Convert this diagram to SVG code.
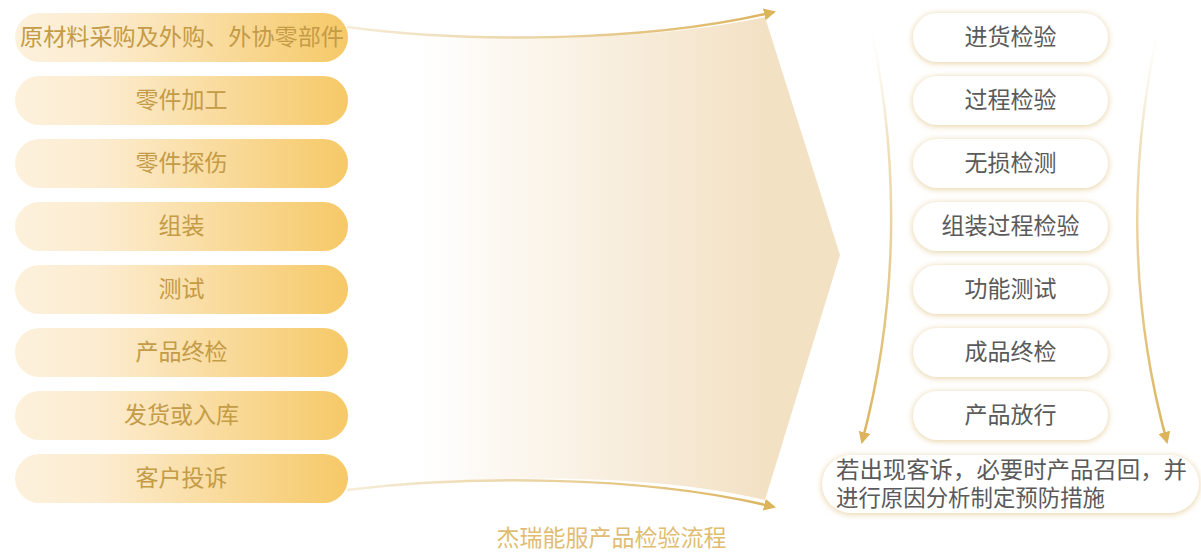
<svg xmlns="http://www.w3.org/2000/svg" width="1201" height="556" viewBox="0 0 1201 556">
<defs>
<linearGradient id="pillGrad" x1="0" y1="0" x2="1" y2="0">
<stop offset="0" stop-color="#fdf1dc"/>
<stop offset="0.25" stop-color="#fcecd0"/>
<stop offset="1" stop-color="#f6c967"/>
</linearGradient>
<linearGradient id="fillGrad" x1="347" y1="0" x2="840" y2="0" gradientUnits="userSpaceOnUse">
<stop offset="0" stop-color="#ffffff"/>
<stop offset="0.15" stop-color="#ffffff"/>
<stop offset="0.85" stop-color="#f3e1c4"/>
<stop offset="1" stop-color="#f3e1c4"/>
</linearGradient>
<linearGradient id="lineGradH" x1="347" y1="0" x2="775" y2="0" gradientUnits="userSpaceOnUse">
<stop offset="0" stop-color="#f6ecd8"/>
<stop offset="1" stop-color="#dcb45c"/>
</linearGradient>
<linearGradient id="lineGradV" x1="0" y1="10" x2="0" y2="442" gradientUnits="userSpaceOnUse">
<stop offset="0" stop-color="#ffffff" stop-opacity="0"/>
<stop offset="0.3" stop-color="#f0e0bc"/>
<stop offset="1" stop-color="#dcb45c"/>
</linearGradient>
<marker id="arrow" viewBox="0 0 12 12" refX="10" refY="6" markerWidth="12" markerHeight="12" markerUnits="userSpaceOnUse" orient="auto">
<path d="M0,0 L12,6 L0,12 Z" fill="#dcb45c"/>
</marker>
<filter id="glow" x="-20%" y="-40%" width="140%" height="180%">
<feGaussianBlur in="SourceAlpha" stdDeviation="3"/>
<feOffset dx="0" dy="1" result="b"/>
<feFlood flood-color="#e3c88e" flood-opacity="0.9"/>
<feComposite in2="b" operator="in"/>
<feMerge><feMergeNode/><feMergeNode in="SourceGraphic"/></feMerge>
</filter>
</defs>
<style>
.lp{fill:url(#pillGrad)}
.lt{font-family:"Noto Sans CJK SC","Noto Sans",sans-serif;font-size:23px;fill:#c49b47;text-anchor:middle}
.rp{fill:#ffffff;filter:url(#glow)}
.rt{font-family:"Noto Sans CJK SC","Noto Sans",sans-serif;font-size:23px;fill:#5a5a5a;text-anchor:middle}
.bt{font-family:"Noto Sans CJK SC","Noto Sans",sans-serif;font-size:22.5px;fill:#5a5a5a}
.title{font-family:"Noto Sans CJK SC","Noto Sans",sans-serif;font-size:23px;fill:#e0bd72;text-anchor:middle}
</style>
<rect width="1201" height="556" fill="#ffffff"/>
<path id="bigArrow" d="M347,27 C460,42 640,44 765,17 L840,255 L765,500 C640,470 460,476 347,490 Z" fill="url(#fillGrad)"/>
<g id="connectors" fill="none">
<path d="M347,27 C460,42 640,44 774,12" stroke="url(#lineGradH)" stroke-width="2.5" marker-end="url(#arrow)"/>
<path d="M347,490 C460,476 640,474 774,507" stroke="url(#lineGradH)" stroke-width="2.5" marker-end="url(#arrow)"/>
<path d="M867,10 C900,150 900,300 862,442" stroke="url(#lineGradV)" stroke-width="2.5" marker-end="url(#arrow)"/>
<path d="M1163,10 C1128,150 1128,300 1167,442" stroke="url(#lineGradV)" stroke-width="2.5" marker-end="url(#arrow)"/>
</g>
<g id="l1"><rect class="lp" x="15" y="13" width="333" height="49" rx="24.5"/><text class="lt" x="182" y="44.5" textLength="324" lengthAdjust="spacingAndGlyphs">原材料采购及外购、外协零部件</text></g>
<g id="l2"><rect class="lp" x="15" y="76" width="333" height="49" rx="24.5"/><text class="lt" x="181.5" y="107.5">零件加工</text></g>
<g id="l3"><rect class="lp" x="15" y="139" width="333" height="49" rx="24.5"/><text class="lt" x="181.5" y="170.5">零件探伤</text></g>
<g id="l4"><rect class="lp" x="15" y="202" width="333" height="49" rx="24.5"/><text class="lt" x="181.5" y="233.5">组装</text></g>
<g id="l5"><rect class="lp" x="15" y="265" width="333" height="49" rx="24.5"/><text class="lt" x="181.5" y="296.5">测试</text></g>
<g id="l6"><rect class="lp" x="15" y="328" width="333" height="49" rx="24.5"/><text class="lt" x="181.5" y="359.5">产品终检</text></g>
<g id="l7"><rect class="lp" x="15" y="391" width="333" height="49" rx="24.5"/><text class="lt" x="181.5" y="422.5">发货或入库</text></g>
<g id="l8"><rect class="lp" x="15" y="454" width="333" height="49" rx="24.5"/><text class="lt" x="181.5" y="485.5">客户投诉</text></g>
<g id="r1"><rect class="rp" x="913" y="13" width="195" height="49" rx="24.5"/><text class="rt" x="1010.5" y="44.5">进货检验</text></g>
<g id="r2"><rect class="rp" x="913" y="76" width="195" height="49" rx="24.5"/><text class="rt" x="1010.5" y="107.5">过程检验</text></g>
<g id="r3"><rect class="rp" x="913" y="139" width="195" height="49" rx="24.5"/><text class="rt" x="1010.5" y="170.5">无损检测</text></g>
<g id="r4"><rect class="rp" x="913" y="202" width="195" height="49" rx="24.5"/><text class="rt" x="1010.5" y="233.5">组装过程检验</text></g>
<g id="r5"><rect class="rp" x="913" y="265" width="195" height="49" rx="24.5"/><text class="rt" x="1010.5" y="296.5">功能测试</text></g>
<g id="r6"><rect class="rp" x="913" y="328" width="195" height="49" rx="24.5"/><text class="rt" x="1010.5" y="359.5">成品终检</text></g>
<g id="r7"><rect class="rp" x="913" y="391" width="195" height="49" rx="24.5"/><text class="rt" x="1010.5" y="422.5">产品放行</text></g>
<g id="r8"><rect class="rp" x="822" y="455" width="377" height="58" rx="29"/><text class="bt"><tspan x="836" y="477.5" textLength="351" lengthAdjust="spacingAndGlyphs">若出现客诉，必要时产品召回，并</tspan><tspan x="836" y="506" textLength="269" lengthAdjust="spacingAndGlyphs">进行原因分析制定预防措施</tspan></text></g>
<text class="title" x="611.5" y="546">杰瑞能服产品检验流程</text>
</svg>
